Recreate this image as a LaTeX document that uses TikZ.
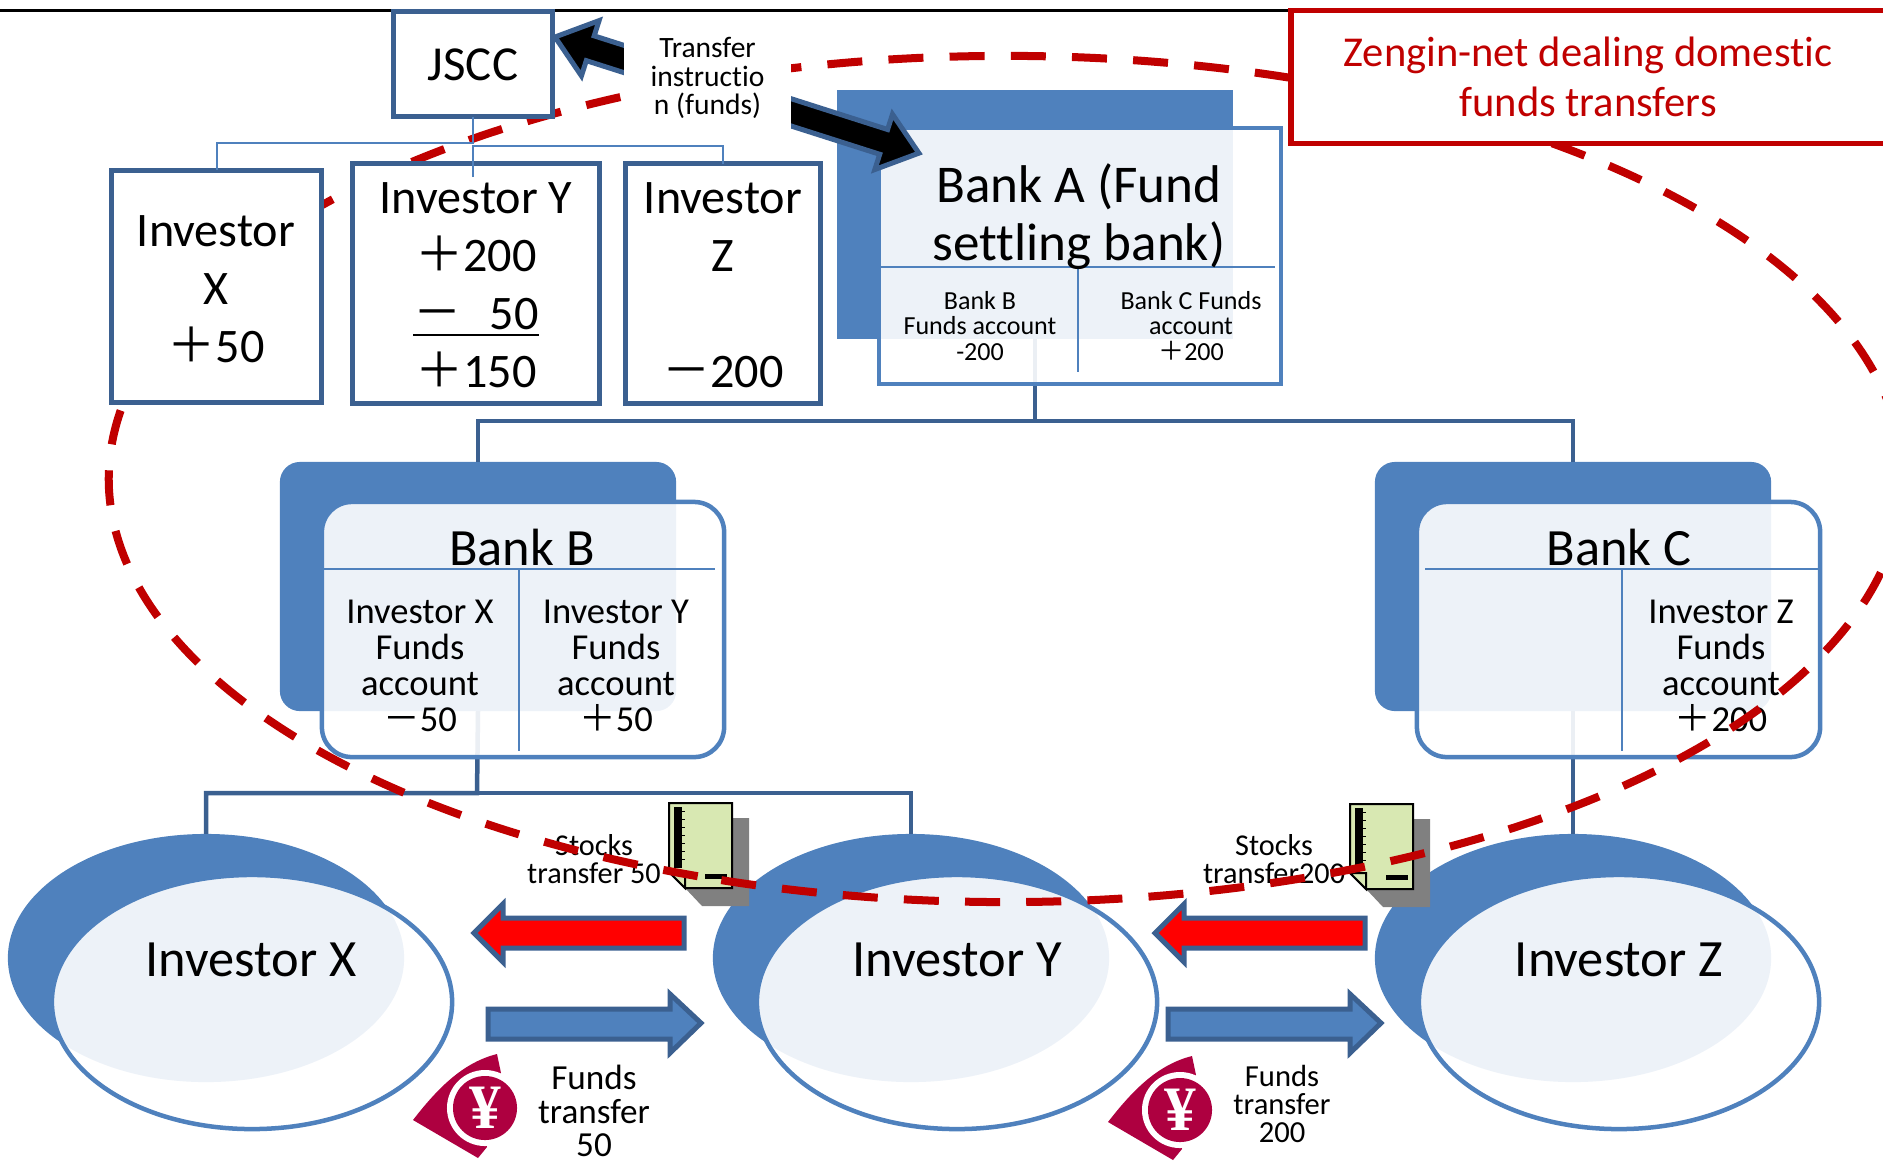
\documentclass[tikz,border=0pt]{standalone}
\usepackage{fontspec}
\usetikzlibrary{shapes.geometric}
\setmainfont[Ligatures=NoCommon]{Carlito}
\newfontfamily\cjk{Noto Sans CJK JP}
\newfontfamily\yenfont{Liberation Serif}
\definecolor{midblue}{HTML}{4F81BD}
\definecolor{darkblue}{HTML}{3B6090}
\definecolor{zenred}{HTML}{C00000}
\definecolor{yencolor}{HTML}{AE0040}
\definecolor{paper}{HTML}{D8E8B2}
\newcommand{\fwplus}{{\cjk ＋}}
\newcommand{\fwminus}{{\cjk －}}
\tikzset{
    txt/.style 2 args={font=\fontsize{#1}{#2}\selectfont,align=center,inner sep=0pt,outer sep=0pt},
    box/.style={rectangle,draw=darkblue,line width=.05cm,fill=white,inner sep=0pt,outer sep=0pt},
    backbox/.style={rectangle,fill=midblue,inner sep=0pt,outer sep=0pt},
    frontbox/.style={rectangle,draw=midblue,line width=.045cm,fill=white,fill opacity=.9,inner sep=0pt,outer sep=0pt},
    backoval/.style={ellipse,fill=midblue,minimum width=3.96cm,minimum height=2.48cm,inner sep=0pt,outer sep=0pt},
    frontoval/.style={ellipse,draw=midblue,line width=.045cm,fill=white,fill opacity=.9,minimum width=4.00cm,minimum height=2.54cm,inner sep=0pt,outer sep=0pt},
    link/.style={draw=darkblue,line width=.045cm},
    thinlink/.style={draw=midblue,line width=.02cm},
    blockarrow/.style={draw=darkblue,line width=.05cm}
}
\begin{document}
\begin{tikzpicture}[x=.01cm,y=-.01cm]
    \useasboundingbox (0,0) rectangle (1883,1160);
    \draw[line width=.03cm] (0,10) -- (1883,10);
    % back shapes
    \node[backbox,minimum width=3.96cm,minimum height=2.49cm] (backA) at (1035,214.5) {};
    \node[backbox,rounded corners=.2cm,minimum width=3.96cm,minimum height=2.49cm] (backB) at (478,586.5) {};
    \node[backbox,rounded corners=.2cm,minimum width=3.96cm,minimum height=2.49cm] (backC) at (1573,586.5) {};
    \node[backoval] (backX) at (206,958) {};
    \node[backoval] (backY) at (911,958) {};
    \node[backoval] (backZ) at (1573,958) {};
    % links
    \draw[link] (backA.south) -- (1035,421) -| (backB.north);
    \draw[link] (1035,421) -| (backC.north);
    \draw[link] (backB.south) -- (477,793) -| (backX.north);
    \draw[link] (477,793) -| (backY.north);
    \draw[link] (backC.south) -- (backZ.north);
    % front shapes
    \node[frontbox,minimum width=4.02cm,minimum height=2.56cm] (frontA) at (1080,256) {};
    \node[frontbox,rounded corners=.3cm,minimum width=4.02cm,minimum height=2.55cm] (frontB) at (523,629.5) {};
    \node[frontbox,rounded corners=.3cm,minimum width=4.03cm,minimum height=2.55cm] (frontC) at (1618.5,629.5) {};
    \node[frontoval] (frontX) at (252,1002) {};
    \node[frontoval] (frontY) at (957,1002) {};
    \node[frontoval] (frontZ) at (1619,1002) {};
    % inner rules
    \draw[thinlink] (881,267) -- (1275,267);
    \draw[thinlink] (1078,267) -- (1078,372);
    \draw[thinlink] (324,569) -- (715,569);
    \draw[thinlink] (519,569) -- (519,751);
    \draw[thinlink] (1425,569) -- (1818,569);
    \draw[thinlink] (1622,569) -- (1622,751);
    % bank texts
    \node[txt={15.1}{16.5}] (titleA) at (1079,217) {Bank A (Fund\\settling bank)};
    \node[txt={7.4}{7.2}] (subAB) at (980,326) {Bank B\\Funds account\\-200};
    \node[txt={7.4}{7.2}] (subAC) at (1191,326) {Bank C Funds\\account\\\fwplus 200};
    \node[txt={14.9}{16.5}] (titleB) at (522,547) {Bank B};
    \node[txt={10.4}{10.2}] (subBX) at (420,666) {Investor X\\Funds\\account\\\fwminus 50};
    \node[txt={10.4}{10.2}] (subBY) at (616,666) {Investor Y\\Funds\\account\\\fwplus 50};
    \node[txt={14.9}{16.5}] (titleC) at (1619,547) {Bank C};
    \node[txt={10.4}{10.2}] (subCZ) at (1721,666) {Investor Z\\Funds\\account\\\fwplus 200};
    \node[txt={14.9}{16.5}] (nameX) at (251,960) {Investor X};
    \node[txt={14.9}{16.5}] (nameY) at (957,960) {Investor Y};
    \node[txt={14.9}{16.5}] (nameZ) at (1619,960) {Investor Z};
    % block arrows
    \draw[blockarrow,fill=red] (474,933) -- (503,904) -- (503,918) -- (684,918) -- (684,948) -- (503,948) -- (503,962) -- cycle;
    \draw[blockarrow,fill=red] (1155,933) -- (1184,904) -- (1184,918) -- (1365,918) -- (1365,948) -- (1184,948) -- (1184,962) -- cycle;
    \draw[blockarrow,fill=midblue] (701,1023) -- (670,994) -- (670,1009) -- (488,1009) -- (488,1039) -- (670,1039) -- (670,1053) -- cycle;
    \draw[blockarrow,fill=midblue] (1381,1023) -- (1350,994) -- (1350,1009) -- (1168,1009) -- (1168,1039) -- (1350,1039) -- (1350,1053) -- cycle;
    % stock certificates
    \foreach \dx/\dy in {0/0,681/1} {
        \begin{scope}[shift={(\dx,\dy)}]
            \fill[gray] (732,818) -- (749,818) -- (749,906) -- (702,906) -- (685,888) -- cycle;
            \draw[line width=.02cm,fill=paper] (669,803) -- (732,803) -- (732,888) -- (685,888) -- (669,872) -- cycle;
            \draw[line width=.02cm,fill=paper] (669,872) -- (685,872) -- (685,888) -- cycle;
            \fill (674,807) rectangle (682,868);
            \foreach \t in {0,...,6} { \draw[line width=.008cm] (682,811+8*\t) -- (685,811+8*\t); }
            \fill (705,874) rectangle (727,879);
        \end{scope}
    }
    % yen marks
    \foreach \dx/\dy in {0/0,695/2} {
        \begin{scope}[shift={(\dx,\dy)}]
            \fill[yencolor] (413,1120) .. controls (440,1085) and (465,1062) .. (497,1054) -- (501,1073) -- (485,1108) -- (487,1147) -- (478,1158) -- cycle;
            \node[circle,fill=white,minimum size=.76cm,inner sep=0pt] (ring\dx) at (485,1108) {};
            \node[circle,fill=yencolor,minimum size=.64cm,inner sep=0pt,text=white,font=\fontsize{18}{18}\selectfont\yenfont\bfseries] (yen\dx) at (485,1108) {¥};
        \end{scope}
    }
    % flow labels
    \node[txt={8.6}{8}] (stocksL) at (594,859) {Stocks\\transfer 50};
    \node[txt={8.6}{8}] (stocksR) at (1274,859) {Stocks\\transfer200};
    \node[txt={10}{9.5}] (fundsL) at (594,1111) {Funds\\transfer\\50};
    \node[txt={8.7}{8}] (fundsR) at (1282,1104) {Funds\\transfer\\200};
    % dealing range
    \draw[zenred,line width=.08cm,dash pattern=on .35cm off .2617cm] (697.7,876.2) arc [start angle=110.1,end angle=470.1,x radius=897,y radius=423];
    % clearing side
    \node[box,minimum width=2.10cm,minimum height=2.32cm] (invX) at (216.5,286.5) {};
    \node[box,minimum width=2.46cm,minimum height=2.39cm] (invY) at (476,283.5) {};
    \node[box,minimum width=1.94cm,minimum height=2.39cm] (invZ) at (723,283.5) {};
    \node[box,minimum width=1.58cm,minimum height=1.05cm] (jscc) at (473,64) {};
    \node[txt={13.7}{16.5}] (labelX) at (216,289) {Investor\\X\\\fwplus 50};
    \node[txt={13.7}{16.5}] (labelY) at (476,285.5) {Investor Y\\\fwplus 200\\\underline{\fwminus\hspace{8pt}50}\\\fwplus 150};
    \node[txt={13.7}{16.5}] (labelZ) at (723,285.5) {Investor\\Z\\ \\\fwminus 200};
    \node[txt={13.9}{15}] (labelJ) at (473,65) {JSCC};
    \coordinate (forkL) at (473,143);
    \coordinate (forkR) at (473,146);
    \coordinate (stubY) at (473,177);
    \draw[thinlink] (jscc.south) -- (forkL) -| (invX.north);
    \draw[thinlink] (stubY) -- (forkR) -| (invZ.north);
    % transfer arrow
    \begin{scope}[shift={(555,37)},rotate=-17.7]
        \draw[blockarrow,fill=black] (0,0) -- (37,-29) -- (37,-13) -- (345,-13) -- (345,-29) -- (382,0) -- (345,29) -- (345,13) -- (37,13) -- (37,29) -- cycle;
    \end{scope}
    \node[fill=white,minimum width=1.67cm,minimum height=1.10cm,inner sep=0pt,outer sep=0pt] (transferbg) at (707.5,77) {};
    \node[txt={8.4}{8}] (transfer) at (707.5,78) {Transfer\\instructio\\n (funds)};
    % zengin note
    \node[rectangle,draw=zenred,line width=.055cm,fill=white,minimum width=6.3cm,minimum height=1.33cm,inner sep=0pt,outer sep=0pt] (zengin) at (1606,77) {};
    \node[text=zenred,txt={12.1}{14.2}] (zengintext) at (1588,77) {Zengin-net dealing domestic\\funds transfers};
\end{tikzpicture}
\end{document}
